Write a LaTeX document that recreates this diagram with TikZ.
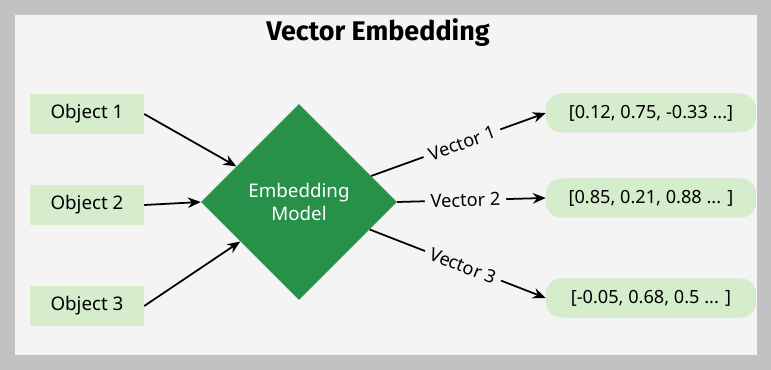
\documentclass[tikz,border=0pt]{standalone}
\usepackage{fontspec}
\setmainfont{Noto Sans}
\newfontfamily\titlefont{Fira Sans}
\usepackage{tikz}
\usetikzlibrary{shapes.geometric, arrows.meta}
\definecolor{framegray}{RGB}{194,194,194}
\definecolor{panelgray}{RGB}{244,244,244}
\definecolor{boxgreen}{RGB}{213,236,205}
\definecolor{modelgreen}{RGB}{40,145,73}
\tikzset{
  objbox/.style={rectangle, fill=boxgreen, minimum width=3.42cm,
    minimum height=1.18cm, inner sep=0pt, font=\fontsize{16}{18}\selectfont},
  vecbox/.style={rectangle, fill=boxgreen, rounded corners=13pt,
    minimum width=6.3cm, minimum height=1.17cm, inner sep=0pt,
    font=\fontsize{15.5}{18}\selectfont},
  modelbox/.style={diamond, fill=modelgreen, minimum width=5.88cm,
    minimum height=5.88cm, inner sep=0pt, text=white, align=center,
    font=\fontsize{16}{17}\selectfont},
  arrow/.style={-{Stealth[length=11pt, width=9pt]}, line width=1.5pt, color=black},
  veclabel/.style={sloped, fill=panelgray, inner sep=5pt,
    font=\fontsize{15.5}{18}\selectfont}
}
\begin{document}
\begin{tikzpicture}[x=0.03cm, y=-0.03cm]
    % Background
    \fill[framegray] (0,0) rectangle (771,370);
    \fill[panelgray] (15,15) rectangle (757,355);
    \useasboundingbox (0,0) rectangle (771,370);
    \node[font=\titlefont\fontsize{23}{25}\selectfont\bfseries] (title) at (378,33) {Vector Embedding};
    % Inputs
    \node[objbox] (obj1) at (87,114) {Object 1};
    \node[objbox] (obj2) at (87,205) {Object 2};
    \node[objbox] (obj3) at (87,306) {Object 3};
    % Model
    \node[modelbox] (model) at (299,202) {\raisebox{-5pt}{\shortstack{Embedding\\Model}}};
    % Outputs
    \node[vecbox] (vec1) at (651,113) {[0.12, 0.75, -0.33 ...]};
    \node[vecbox] (vec2) at (651,198) {[0.85, 0.21, 0.88 ... ]};
    \node[vecbox] (vec3) at (651,298) {[-0.05, 0.68, 0.5 ... ]};
    % Arrows
    \draw[arrow] (obj1.east) -- (model);
    \draw[arrow] (obj2.east) -- (model.west);
    \draw[arrow] (obj3.east) -- (model);
    \draw[arrow] (model) -- (vec1.west) node[veclabel, pos=0.52] {Vector 1};
    \draw[arrow] (model.east) -- (vec2.west) node[veclabel, pos=0.46] {Vector 2};
    \draw[arrow] (model) -- (vec3.west) node[veclabel, pos=0.53] {Vector 3};
\end{tikzpicture}
\end{document}
